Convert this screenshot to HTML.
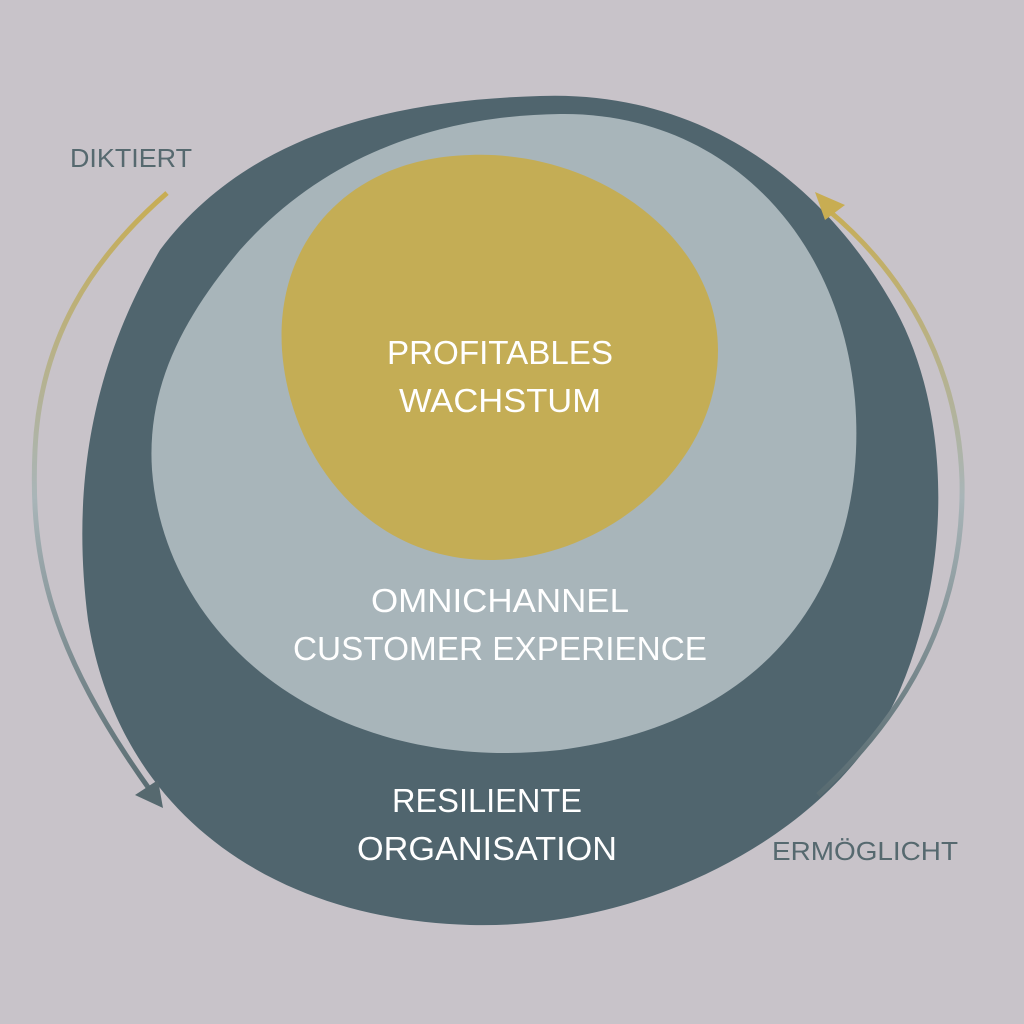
<!DOCTYPE html>
<html><head><meta charset="utf-8"><style>
html,body{margin:0;padding:0;background:#c8c3c9;}
svg{display:block}
text{font-family:"Liberation Sans",sans-serif;}
</style></head><body>
<svg width="1024" height="1024" viewBox="0 0 1024 1024">
<defs>
<linearGradient id="gl" x1="0" y1="190" x2="0" y2="805" gradientUnits="userSpaceOnUse">
<stop offset="0" stop-color="#c8ad52"/><stop offset="0.5" stop-color="#a9b5b8"/><stop offset="1" stop-color="#56696f"/></linearGradient>
<linearGradient id="gr" x1="0" y1="800" x2="0" y2="195" gradientUnits="userSpaceOnUse">
<stop offset="0" stop-color="#56696f"/><stop offset="0.5" stop-color="#a9b5b8"/><stop offset="1" stop-color="#c8ad52"/></linearGradient>
</defs>
<rect width="1024" height="1024" fill="#c8c3c9"/>
<!-- dark blob -->
<path d="M540,96 C700,90 820,180 890,300 C950,400 955,560 900,690 C840,830 650,930 470,925 C280,920 120,820 88,620 C70,480 95,360 160,250 C250,130 400,100 540,96 Z" fill="#50656e"/>
<!-- light blob -->
<path d="M560,114 C720,112 840,230 855,400 C868,560 790,720 560,750 C330,775 165,640 152,470 C146,380 190,310 240,250 C320,160 430,116 560,114 Z" fill="#a8b5ba"/>
<!-- gold blob -->
<path d="M470,155 C600,150 718,240 718,350 C718,470 600,560 490,560 C370,560 290,460 282,350 C275,240 350,158 470,155 Z" fill="#c4ad55"/>
<!-- left arrow -->
<path d="M167,193 C90,260 40,340 35,450 C30,560 50,650 150,790" fill="none" stroke="url(#gl)" stroke-width="5"/>
<polygon points="163,808 135,795 158,780" fill="#56696f"/>
<!-- right arrow -->
<path d="M818,795 C900,720 965,620 962,480 C958,360 900,270 828,210" fill="none" stroke="url(#gr)" stroke-width="5"/>
<polygon points="815,192 845,205 825,220" fill="#c8ad52"/>
<text x="131" y="167" font-size="26" fill="#56696f" text-anchor="middle" textLength="122" lengthAdjust="spacingAndGlyphs">DIKTIERT</text>
<text x="865" y="860" font-size="26" fill="#56696f" text-anchor="middle" textLength="186" lengthAdjust="spacingAndGlyphs">ERMÖGLICHT</text>
<g fill="#fff" font-size="33" text-anchor="middle">
<text x="500" y="364" textLength="226" lengthAdjust="spacingAndGlyphs">PROFITABLES</text>
<text x="500" y="412" textLength="202" lengthAdjust="spacingAndGlyphs">WACHSTUM</text>
<text x="500" y="612" textLength="258" lengthAdjust="spacingAndGlyphs">OMNICHANNEL</text>
<text x="500" y="660" textLength="414" lengthAdjust="spacingAndGlyphs">CUSTOMER EXPERIENCE</text>
<text x="487" y="812" textLength="190" lengthAdjust="spacingAndGlyphs">RESILIENTE</text>
<text x="487" y="860" textLength="260" lengthAdjust="spacingAndGlyphs">ORGANISATION</text>
</g>
</svg>
</body></html>
